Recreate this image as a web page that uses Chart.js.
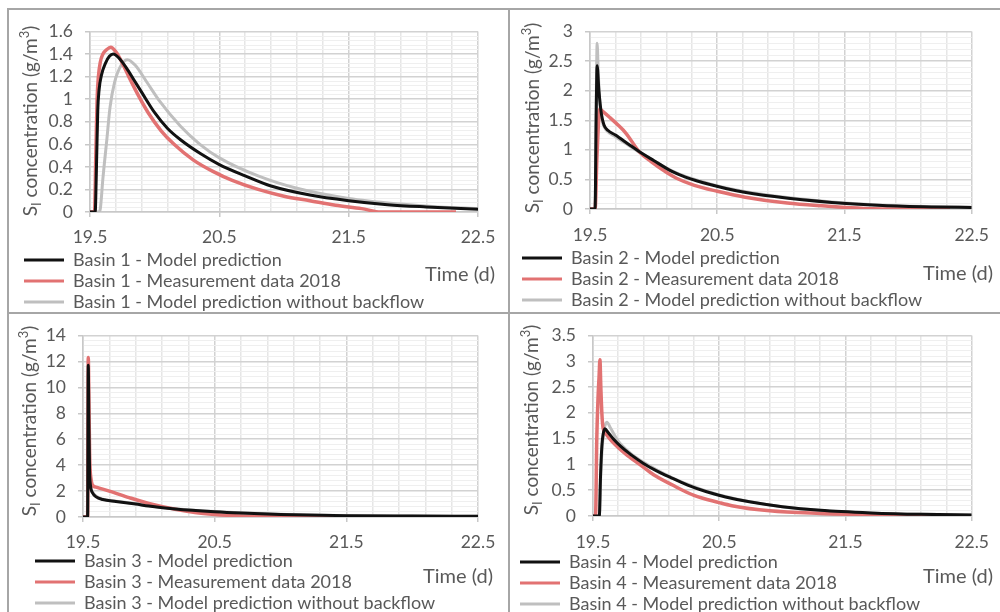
<!DOCTYPE html>
<html><head><meta charset="utf-8">
<script src="https://cdn.jsdelivr.net/npm/chart.js@4.4.1/dist/chart.umd.min.js"></script>
<style>
html,body{margin:0;padding:0;background:#fff;width:1000px;height:612px;overflow:hidden;position:relative}
canvas{position:absolute}
.ln{position:absolute;background:#a6a6a6;z-index:5}
</style></head><body>
<canvas id="c1" width="501" height="312" style="left:8px;top:9px"></canvas>
<canvas id="c2" width="491" height="310" style="left:509px;top:9px"></canvas>
<canvas id="c3" width="501" height="309" style="left:8px;top:313px"></canvas>
<canvas id="c4" width="491" height="310" style="left:509px;top:313px"></canvas>
<div class="ln" style="left:8px;top:8px;width:992px;height:2px"></div>
<div class="ln" style="left:8px;top:312px;width:992px;height:2px"></div>
<div class="ln" style="left:7px;top:8px;width:2px;height:604px"></div>
<div class="ln" style="left:508px;top:8px;width:2px;height:604px"></div>
<script>
// ---------- text ----------
const basinNames = ['Basin 1', 'Basin 2', 'Basin 3', 'Basin 4'];
const seriesNames = ['Model prediction', 'Measurement data 2018', 'Model prediction without backflow'];
const yTitleParts = ['S', 'I', ' concentration (g/m', '3', ')'];
const xTitle = 'Time (d)';

// ---------- tick labels ----------
const xMajorTicks = [19.5, 20.5, 21.5, 22.5];
const y1Ticks = [0, 0.2, 0.4, 0.6, 0.8, 1, 1.2, 1.4, 1.6];
const y2Ticks = [0, 0.5, 1, 1.5, 2, 2.5, 3];
const y3Ticks = [0, 2, 4, 6, 8, 10, 12, 14];
const y4Ticks = [0, 0.5, 1, 1.5, 2, 2.5, 3, 3.5];

// ---------- Basin 1 ----------
const b1ModelT = [19.5, 19.54, 19.55, 19.56, 19.57, 19.59, 19.62, 19.65, 19.68, 19.72, 19.78, 19.84, 19.9, 20.0, 20.1, 20.2, 20.35, 20.5, 20.7, 20.9, 21.2, 21.5, 21.8, 22.1, 22.5];
const b1ModelV = [0, 0, 0.4, 0.9, 1.08, 1.22, 1.32, 1.38, 1.40, 1.37, 1.28, 1.17, 1.06, 0.88, 0.74, 0.64, 0.52, 0.42, 0.32, 0.23, 0.15, 0.10, 0.065, 0.045, 0.025];
const b1MeasT = [19.5, 19.535, 19.545, 19.555, 19.565, 19.58, 19.6, 19.63, 19.66, 19.7, 19.75, 19.8, 19.88, 19.95, 20.05, 20.15, 20.3, 20.45, 20.6, 20.8, 21.0, 21.2, 21.4, 21.6, 21.75, 22.0, 22.33];
const b1MeasV = [0, 0, 0.5, 1.0, 1.2, 1.33, 1.4, 1.44, 1.46, 1.42, 1.32, 1.2, 1.02, 0.88, 0.72, 0.6, 0.46, 0.36, 0.28, 0.2, 0.14, 0.1, 0.06, 0.03, 0.0, 0, 0];
const b1NoBackT = [19.5, 19.57, 19.58, 19.6, 19.63, 19.655, 19.69, 19.745, 19.79, 19.85, 19.94, 20.04, 20.2, 20.35, 20.5, 20.8, 21.1, 21.5, 21.9, 22.2, 22.5];
const b1NoBackV = [0, 0, 0.03, 0.3, 0.64, 0.93, 1.15, 1.31, 1.35, 1.30, 1.15, 0.98, 0.76, 0.6, 0.48, 0.32, 0.21, 0.12, 0.07, 0.045, 0.03];

// ---------- Basin 2 ----------
const b2ModelT = [19.5, 19.54, 19.548, 19.556, 19.57, 19.59, 19.61, 19.64, 19.7, 19.8, 19.88, 20.0, 20.14, 20.25, 20.45, 20.65, 20.95, 21.4, 21.8, 22.2, 22.5];
const b2ModelV = [0, 0, 1.5, 2.42, 2.0, 1.6, 1.42, 1.33, 1.25, 1.1, 0.98, 0.82, 0.64, 0.54, 0.41, 0.31, 0.21, 0.11, 0.06, 0.035, 0.025];
const b2MeasT = [19.5, 19.54, 19.555, 19.577, 19.6, 19.654, 19.72, 19.783, 19.886, 19.98, 20.1, 20.18, 20.32, 20.5, 20.72, 21.05, 21.35, 21.65, 22.0, 22.33];
const b2MeasV = [0, 0, 0.9, 1.69, 1.65, 1.55, 1.42, 1.28, 0.97, 0.8, 0.62, 0.52, 0.4, 0.3, 0.2, 0.1, 0.05, 0.01, 0, 0];
const b2NoBackT = [19.5, 19.54, 19.55, 19.556, 19.565, 19.58, 19.6, 19.63, 19.7, 19.8, 19.88, 20.0, 20.14, 20.25, 20.45, 20.65, 20.95, 21.4, 21.8, 22.2, 22.5];
const b2NoBackV = [0, 0, 2.0, 2.8, 2.3, 1.7, 1.45, 1.33, 1.22, 1.08, 0.97, 0.82, 0.65, 0.55, 0.42, 0.32, 0.22, 0.12, 0.065, 0.04, 0.03];

// ---------- Basin 3 ----------
const b3ModelT = [19.5, 19.535, 19.54, 19.545, 19.55, 19.555, 19.56, 19.57, 19.6, 19.65, 19.75, 19.9, 20.0, 20.2, 20.5, 20.7, 21.0, 21.5, 22.0, 22.5];
const b3ModelV = [0, 0, 11.7, 7, 3.5, 2.6, 2.2, 1.9, 1.55, 1.35, 1.2, 1.0, 0.85, 0.62, 0.4, 0.3, 0.2, 0.1, 0.07, 0.05];
const b3MeasT = [19.5, 19.535, 19.54, 19.545, 19.55, 19.555, 19.56, 19.57, 19.6, 19.7, 19.85, 20.0, 20.2, 20.35, 20.5, 20.7, 21.0, 21.5, 22.0, 22.33];
const b3MeasV = [0, 0, 12.3, 9, 5, 3.5, 3.0, 2.5, 2.3, 2.0, 1.5, 1.05, 0.6, 0.35, 0.2, 0.08, 0.03, 0.01, 0, 0];
const b3NoBackT = [19.5, 19.535, 19.54, 19.545, 19.55, 19.56, 19.57, 19.6, 19.65, 19.75, 19.9, 20.0, 20.2, 20.5, 21.0, 21.5, 22.0, 22.5];
const b3NoBackV = [0, 0, 11.2, 6.5, 3.2, 2.2, 1.95, 1.6, 1.38, 1.22, 1.02, 0.87, 0.64, 0.42, 0.21, 0.11, 0.07, 0.05];

// ---------- Basin 4 ----------
const b4ModelT = [19.5, 19.55, 19.56, 19.57, 19.58, 19.594, 19.62, 19.66, 19.72, 19.8, 19.9, 20.0, 20.12, 20.25, 20.4, 20.55, 20.75, 21.0, 21.3, 21.7, 22.1, 22.5];
const b4ModelV = [0, 0, 0.8, 1.35, 1.58, 1.69, 1.62, 1.5, 1.35, 1.19, 1.02, 0.88, 0.74, 0.6, 0.47, 0.37, 0.27, 0.18, 0.11, 0.06, 0.032, 0.02];
const b4MeasT = [19.5, 19.52, 19.53, 19.54, 19.548, 19.555, 19.562, 19.57, 19.58, 19.6, 19.65, 19.76, 19.87, 19.98, 20.13, 20.3, 20.5, 20.6, 20.9, 21.3, 21.8, 22.33];
const b4MeasV = [0, 0, 1.5, 2.3, 2.7, 3.03, 2.5, 2.0, 1.7, 1.6, 1.45, 1.2, 1.0, 0.8, 0.6, 0.4, 0.26, 0.2, 0.1, 0.05, 0.02, 0.0];
const b4NoBackT = [19.5, 19.55, 19.56, 19.575, 19.59, 19.61, 19.64, 19.7, 19.8, 19.9, 20.0, 20.2, 20.5, 21.0, 21.5, 22.0, 22.5];
const b4NoBackV = [0, 0, 0.7, 1.4, 1.7, 1.82, 1.7, 1.45, 1.21, 1.04, 0.9, 0.66, 0.41, 0.18, 0.08, 0.04, 0.02];

// ---------- styling ----------
const FONT = 'Lato, "Open Sans", sans-serif';
const TXT = '#595959';
const LINE_COLORS = ['#111111', '#e27272', '#bfbfbf'];
const LINE_WIDTHS = [3, 3.5, 3];

function pts(t, v) { return t.map((x, i) => ({ x: x, y: v[i] })); }
function subdivide(majors, n) {
  const out = [];
  for (let i = 0; i < majors.length - 1; i++) {
    const a = majors[i], b = majors[i + 1];
    for (let k = 0; k < n; k++) out.push(Math.round((a + (b - a) * k / n) * 1e6) / 1e6);
  }
  out.push(majors[majors.length - 1]);
  return out;
}
function findMajor(v, majors) { return majors.find(m => Math.abs(m - v) < 1e-6); }

const axisTextPlugin = {
  id: 'axisText',
  afterDraw(chart, args, o) {
    const ctx = chart.ctx;
    ctx.save();
    ctx.fillStyle = TXT;
    ctx.translate(o.yx, o.yy);
    ctx.rotate(-Math.PI / 2);
    ctx.textBaseline = 'alphabetic';
    const big = '19px ' + FONT, small = '13px ' + FONT;
    const fonts = [big, small, big, small, big];
    const dys = [0, 4, 0, -8, 0];
    let w = 0;
    yTitleParts.forEach((p, i) => { ctx.font = fonts[i]; w += ctx.measureText(p).width; });
    let x = -w / 2;
    yTitleParts.forEach((p, i) => {
      ctx.font = fonts[i];
      ctx.fillText(p, x, 7 + dys[i]);
      x += ctx.measureText(p).width;
    });
    ctx.restore();
    ctx.save();
    ctx.fillStyle = TXT;
    ctx.font = '20px ' + FONT;
    ctx.textAlign = 'right';
    ctx.textBaseline = 'middle';
    ctx.fillText(xTitle, o.tx, o.ty);
    ctx.restore();
  }
};

function buildPanel(id, basinIdx, series, yMajors, lay) {
  const xAll = subdivide(xMajorTicks, 5);
  const yAll = subdivide(yMajors, 5);
  const datasets = series.map((s, i) => ({
    label: basinNames[basinIdx] + ' - ' + seriesNames[i],
    data: pts(s[0], s[1]),
    borderColor: LINE_COLORS[i],
    backgroundColor: LINE_COLORS[i],
    borderWidth: LINE_WIDTHS[i],
    pointRadius: 0,
    fill: false,
    cubicInterpolationMode: 'monotone'
  }));
  new Chart(document.getElementById(id), {
    type: 'line',
    data: { datasets: datasets },
    plugins: [axisTextPlugin],
    options: {
      responsive: false,
      animation: false,
      events: [],
      layout: { padding: { top: lay.top, left: lay.left, right: lay.right, bottom: 0 } },
      plugins: {
        tooltip: { enabled: false },
        legend: {
          position: 'bottom',
          align: 'start',
          labels: {
            font: { family: FONT, size: 18 },
            color: TXT,
            boxWidth: 40,
            boxHeight: 3,
            padding: 3,
            generateLabels(chart) {
              return chart.data.datasets.map((d, i) => ({
                text: d.label, fillStyle: d.borderColor, strokeStyle: d.borderColor,
                lineWidth: 0, hidden: false, datasetIndex: i, fontColor: TXT
              }));
            }
          }
        },
        axisText: { yx: lay.yx, yy: lay.yy, tx: lay.tx, ty: lay.ty }
      },
      scales: {
        x: {
          type: 'linear',
          min: 19.5, max: 22.5,
          afterBuildTicks(s) { s.ticks = xAll.map(v => ({ value: v })); },
          afterFit(s) { s.height = lay.xh; },
          ticks: {
            autoSkip: false, maxRotation: 0, minRotation: 0, padding: lay.xpad,
            color: TXT, font: { family: FONT, size: 17.5 },
            callback(v) { const m = findMajor(v, xMajorTicks); return m === undefined ? '' : m.toFixed(1); }
          },
          grid: {
            color: c => findMajor(c.tick.value, xMajorTicks) !== undefined ? '#d2d2d2' : '#e6e6e6',
            lineWidth: 1.5,
            tickLength: 5,
            tickColor: c => findMajor(c.tick.value, xMajorTicks) !== undefined ? '#c8c8c8' : 'rgba(0,0,0,0)'
          },
          border: { color: '#c8c8c8', width: 1.5 }
        },
        y: {
          type: 'linear',
          min: 0, max: yMajors[yMajors.length - 1],
          afterBuildTicks(s) { s.ticks = yAll.map(v => ({ value: v })); },
          afterFit(s) { s.width = lay.yw; },
          ticks: {
            autoSkip: false, padding: 12,
            color: TXT, font: { family: FONT, size: 17.5 },
            callback(v) { const m = findMajor(v, yMajors); return m === undefined ? '' : String(m); }
          },
          grid: {
            color: c => findMajor(c.tick.value, yMajors) !== undefined ? '#d2d2d2' : '#efefef',
            lineWidth: c => findMajor(c.tick.value, yMajors) !== undefined ? 1.5 : 1,
            tickLength: 5,
            tickColor: c => findMajor(c.tick.value, yMajors) !== undefined ? '#c8c8c8' : 'rgba(0,0,0,0)'
          },
          border: { color: '#c8c8c8', width: 1.5 }
        }
      }
    }
  });
}

buildPanel('c1', 0, [[b1ModelT, b1ModelV], [b1MeasT, b1MeasV], [b1NoBackT, b1NoBackV]], y1Ticks,
  { top: 15, left: 13, right: 31, yw: 69, xh: 36, xpad: 10, yx: 22, yy: 112, tx: 487, ty: 266 });
buildPanel('c2', 1, [[b2ModelT, b2ModelV], [b2MeasT, b2MeasV], [b2NoBackT, b2NoBackV]], y2Ticks,
  { top: 15, left: 10, right: 21, yw: 71, xh: 37, xpad: 11, yx: 23, yy: 109, tx: 484, ty: 265 });
buildPanel('c3', 2, [[b3ModelT, b3ModelV], [b3MeasT, b3MeasV], [b3NoBackT, b3NoBackV]], y3Ticks,
  { top: 15, left: 24, right: 31, yw: 51, xh: 32, xpad: 10, yx: 21, yy: 108, tx: 485, ty: 264 });
buildPanel('c4', 3, [[b4ModelT, b4ModelV], [b4MeasT, b4MeasV], [b4NoBackT, b4NoBackV]], y4Ticks,
  { top: 15, left: 8, right: 22, yw: 76, xh: 34, xpad: 11, yx: 22, yy: 107, tx: 484, ty: 264 });
</script>
</body></html>
